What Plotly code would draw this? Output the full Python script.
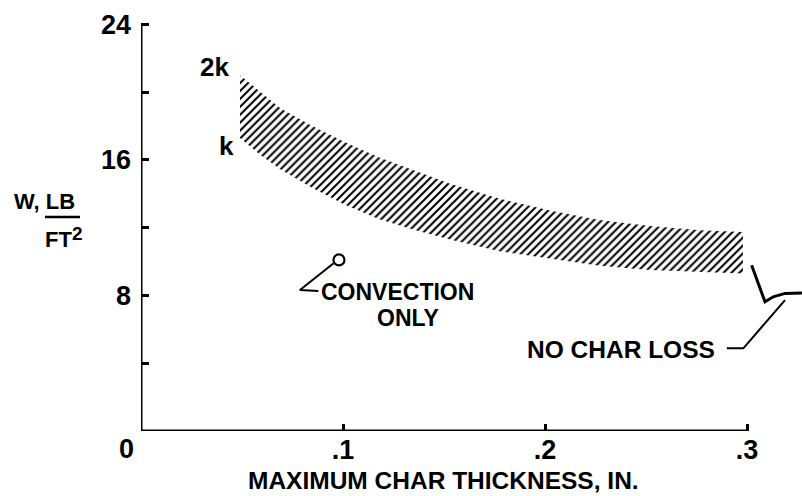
import plotly.graph_objects as go

# Char thickness (in.) at which the band boundaries are tabulated
char_thickness = [0.049, 0.059, 0.069, 0.084, 0.101, 0.118, 0.136,
                  0.153, 0.178, 0.203, 0.227, 0.252, 0.277, 0.298]
# Upper boundary of the band (conductivity 2k), W in lb/ft^2
w_upper_2k = [21.0, 20.0, 19.05, 18.05, 17.05, 16.15, 15.35,
              14.6, 13.7, 13.0, 12.45, 12.1, 11.85, 11.75]
# Lower boundary of the band (conductivity k), W in lb/ft^2
w_lower_k = [17.3, 16.3, 15.45, 14.4, 13.35, 12.5, 11.85,
             11.3, 10.6, 10.15, 9.75, 9.5, 9.4, 9.3]

# Convection-only case
conv_x = [0.098]
conv_w = [10.1]

# "No char loss" level, drawn with a break symbol at the right edge
no_char_x = [0.3023, 0.3089, 0.3130, 0.3188, 0.3272]
no_char_w = [9.79, 7.63, 7.92, 8.12, 8.15]

# Leader lines for the callouts
conv_leader_x = [0.0952, 0.0787, 0.0878]
conv_leader_w = [9.89, 8.32, 8.26]
nocl_leader_x = [0.2900, 0.2982, 0.3188]
nocl_leader_w = [4.88, 4.88, 7.73]

x_ticks = [0.1, 0.2, 0.3]
x_tick_text = [".1", ".2", ".3"]
y_ticks = [8, 16, 24]
y_tick_text = ["8", "16", "24"]

X_MAX = 0.32723
Y_MAX = 25.44
FONT = "Liberation Sans, Arial, sans-serif"
INK = "black"

fig = go.Figure()

# Hatched band between k and 2k
fig.add_trace(go.Scatter(x=char_thickness, y=w_lower_k, mode="lines",
                         line=dict(width=0, color="white"),
                         showlegend=False, hoverinfo="skip"))
fig.add_trace(go.Scatter(
    x=char_thickness, y=w_upper_2k, mode="lines", fill="tonexty",
    line=dict(width=0, color=INK),
    fillcolor="white",
    fillpattern=dict(shape="/", size=5.6, solidity=0.36, fgcolor=INK,
                     bgcolor="white", fillmode="replace"),
    showlegend=False, hoverinfo="skip"))

# Convection-only point and its leader
fig.add_trace(go.Scatter(x=conv_x, y=conv_w, mode="markers",
                         marker=dict(symbol="circle-open", size=11, color=INK,
                                     line=dict(width=2.2, color=INK)),
                         showlegend=False))
fig.add_trace(go.Scatter(x=conv_leader_x, y=conv_leader_w, mode="lines",
                         line=dict(color=INK, width=2), showlegend=False))

# No char loss line and its leader
fig.add_trace(go.Scatter(x=no_char_x, y=no_char_w, mode="lines",
                         line=dict(color=INK, width=3), showlegend=False,
                         cliponaxis=False))
fig.add_trace(go.Scatter(x=nocl_leader_x, y=nocl_leader_w, mode="lines",
                         line=dict(color=INK, width=2), showlegend=False))

# Axis lines stop at the last labelled value
fig.add_shape(type="line", x0=0, x1=0, y0=0, y1=24, xref="x", yref="y",
              line=dict(color=INK, width=3))
fig.add_shape(type="line", x0=0, x1=0.3, y0=0, y1=0, xref="x", yref="y",
              line=dict(color=INK, width=3))
# Fraction bar of the y-axis unit (left of the plot area)
fig.add_shape(type="line", x0=-0.0475 / X_MAX, x1=-0.0302 / X_MAX,
              y0=12.63 / Y_MAX, y1=12.63 / Y_MAX, xref="paper", yref="paper",
              line=dict(color=INK, width=2.5))


def note(text, x, y, size, xanchor="center", yanchor="middle", ref="data"):
    if ref == "paper":
        x, y, xr, yr = x / X_MAX, y / Y_MAX, "paper", "paper"
    else:
        xr, yr = "x", "y"
    fig.add_annotation(text=text, x=x, y=y, xref=xr, yref=yr,
                       showarrow=False, xanchor=xanchor, yanchor=yanchor,
                       font=dict(family=FONT, size=size, color=INK,
                                 weight="bold"))


note("2k", 0.0366, 21.49, 26)
note("k", 0.0421, 16.82, 26)
note("CONVECTION", 0.127, 8.22, 23)
note("ONLY", 0.1322, 6.67, 23)
note("NO CHAR LOSS", 0.2851, 4.84, 24.5, xanchor="right")
note("W, LB", -0.0639, 13.52, 22, xanchor="left", ref="paper")
note("FT", -0.0485, 11.33, 22, xanchor="left", ref="paper")
note("2", -0.0350, 11.63, 19, xanchor="left", ref="paper")
note("0", -0.0074, -1.06, 27, ref="paper")
note("MAXIMUM CHAR THICKNESS, IN.", 0.15, -2.95, 24.5, ref="paper")

fig.update_xaxes(range=[0, X_MAX], tickvals=x_ticks, ticktext=x_tick_text,
                 ticks="inside", ticklen=7, tickwidth=2.5, tickcolor=INK,
                 showline=False, showgrid=False, zeroline=False,
                 ticklabelstandoff=0,
                 tickfont=dict(family=FONT, size=27, color=INK, weight="bold"))
fig.update_yaxes(range=[0, Y_MAX], tickvals=y_ticks, ticktext=y_tick_text,
                 ticks="inside", ticklen=8, tickwidth=2.5, tickcolor=INK,
                 minor=dict(tick0=0, dtick=4, ticks="inside", ticklen=8,
                            tickwidth=2.5, tickcolor=INK, showgrid=False),
                 showline=False, showgrid=False, zeroline=False,
                 ticklabelstandoff=9,
                 tickfont=dict(family=FONT, size=27, color=INK, weight="bold"))

fig.update_layout(width=802, height=496,
                  margin=dict(l=141, r=0, t=0, b=65, pad=0),
                  paper_bgcolor="white", plot_bgcolor="white",
                  font=dict(family=FONT, color=INK, weight="bold"),
                  showlegend=False)

fig.write_html("out.html")
